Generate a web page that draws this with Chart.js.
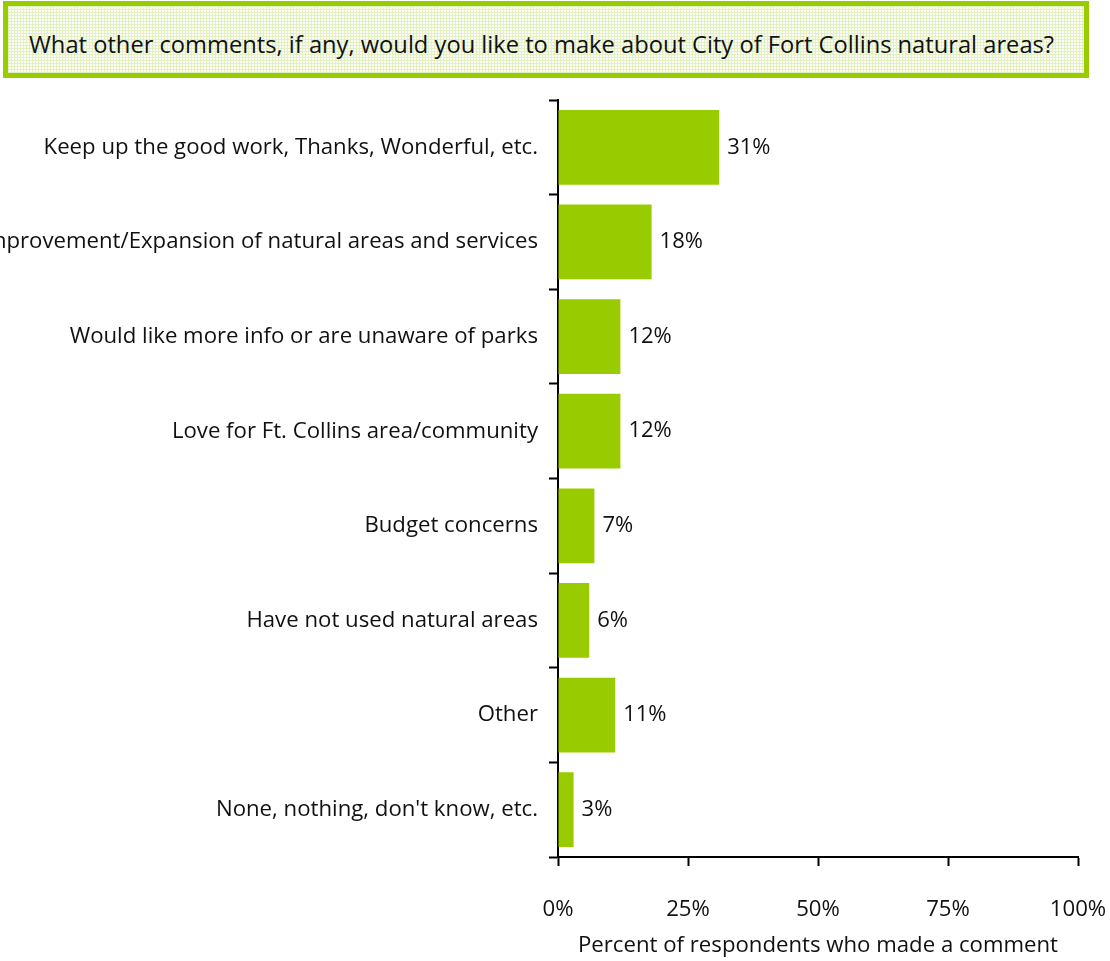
<!DOCTYPE html>
<html>
<head>
<meta charset="utf-8">
<script src="https://cdn.jsdelivr.net/npm/chart.js@4"></script>
<style>
  body { margin: 0; background: #fff; width: 1110px; height: 961px; position: relative; overflow: hidden; }
  #titleBox {
    position: absolute; left: 3px; top: 1px; width: 1086px; height: 77px;
    box-sizing: border-box;
    border: 5px solid #99cc00;
    background-color: #fbfdf6;
    background-image:
      repeating-linear-gradient(0deg, #e2f0c2 0px, #e2f0c2 1px, transparent 1px, transparent 3px),
      repeating-linear-gradient(90deg, #e2f0c2 0px, #e2f0c2 1px, transparent 1px, transparent 3px);
    font-family: "Open Sans", sans-serif; font-size: 23.7px; color: #111;
    line-height: 67px; padding-left: 21px; padding-top: 5px; white-space: nowrap;
  }
  #wrap { position: absolute; left: 0; top: 80px; width: 1110px; height: 881px; }
</style>
</head>
<body>
<div id="titleBox">What other comments, if any, would you like to make about City of Fort Collins natural areas?</div>
<div id="wrap"><canvas id="graficoComentarios"></canvas></div>
<script>
// dados
const categorias = [
    'Keep up the good work, Thanks, Wonderful, etc.',
    'Improvement/Expansion of natural areas and services',
    'Would like more info or are unaware of parks',
    'Love for Ft. Collins area/community',
    'Budget concerns',
    'Have not used natural areas',
    'Other',
    "None, nothing, don't know, etc."
];
const percentuais = [31, 18, 12, 12, 7, 6, 11, 3];
const ticksX = [0, 25, 50, 75, 100];

const fonte = { family: '"Open Sans", sans-serif', size: 22.2 };

// rótulos no fim das barras
const rotulosBarras = {
    id: 'rotulosBarras',
    afterDatasetsDraw(chart) {
        const ctx = chart.ctx;
        const meta = chart.getDatasetMeta(0);
        ctx.save();
        ctx.font = '22px "Open Sans", sans-serif';
        ctx.fillStyle = '#111';
        ctx.textAlign = 'left';
        ctx.textBaseline = 'middle';
        meta.data.forEach((bar, i) => {
            ctx.fillText(percentuais[i] + '%', bar.x + 8, bar.y);
        });
        ctx.restore();
    }
};

const ctxComentarios = document.getElementById('graficoComentarios').getContext('2d');
new Chart(ctxComentarios, {
    type: 'bar',
    data: {
        labels: categorias,
        datasets: [{
            data: percentuais,
            backgroundColor: '#99cc00',
            borderWidth: 0,
            categoryPercentage: 1,
            barPercentage: 0.79
        }]
    },
    options: {
        indexAxis: 'y',
        responsive: true,
        maintainAspectRatio: false,
        animation: false,
        layout: { padding: { top: 20, right: 32, left: 0, bottom: 0 } },
        plugins: {
            legend: { display: false },
            tooltip: { enabled: false }
        },
        scales: {
            x: {
                min: 0,
                max: 100,
                afterBuildTicks: (scale) => { scale.ticks = ticksX.map(v => ({ value: v })); },
                afterFit: (scale) => {
                    scale.height = 104;
                    scale.paddingLeft = 0;
                    scale.paddingRight = 0;
                },
                grid: { drawOnChartArea: false, drawTicks: true, tickLength: 9, color: '#000', tickWidth: 2 },
                border: { display: true, color: '#000', width: 2 },
                ticks: {
                    font: fonte, color: '#111', padding: 30, maxRotation: 0,
                    callback: (v) => v + '%'
                },
                title: {
                    display: true,
                    text: 'Percent of respondents who made a comment',
                    font: fonte, color: '#111',
                    padding: { top: 0, bottom: 2 }
                }
            },
            y: {
                afterFit: (scale) => {
                    scale.width = 558;
                    scale.paddingTop = 0;
                    scale.paddingBottom = 0;
                },
                grid: { drawOnChartArea: false, drawTicks: true, tickLength: 9, color: '#000', tickWidth: 2, offset: true },
                border: { display: true, color: '#000', width: 2 },
                ticks: { font: fonte, color: '#111', padding: 11, autoSkip: false }
            }
        }
    },
    plugins: [rotulosBarras]
});
</script>
</body>
</html>
